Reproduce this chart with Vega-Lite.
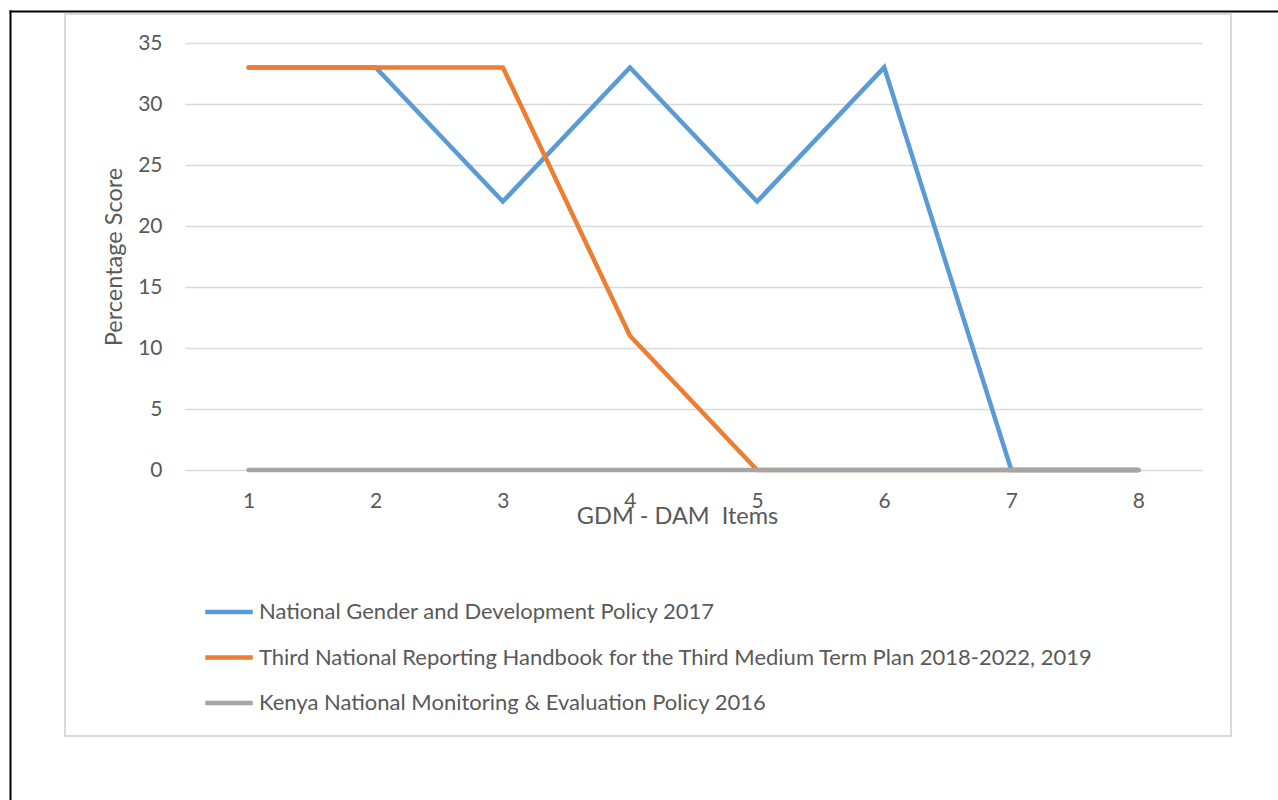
{
  "$schema": "https://vega.github.io/schema/vega-lite/v6.json",
  "width": 1166,
  "height": 722,
  "autosize": "none",
  "padding": {"left": 65, "top": 14, "right": 47, "bottom": 64},
  "background": "#ffffff",
  "config": {
    "view": {"stroke": "#D9D9D9", "strokeWidth": 2},
    "font": "Lato",
    "axis": {
      "labelFont": "Lato",
      "titleFont": "Lato",
      "labelColor": "#595959",
      "titleColor": "#595959",
      "labelFontSize": 21,
      "titleFontSize": 23.5,
      "titleFontWeight": "normal"
    }
  },
  "data": {
    "values": [
      {"item": 1, "series": "National Gender and Development Policy 2017", "score": 33},
      {"item": 2, "series": "National Gender and Development Policy 2017", "score": 33},
      {"item": 3, "series": "National Gender and Development Policy 2017", "score": 22},
      {"item": 4, "series": "National Gender and Development Policy 2017", "score": 33},
      {"item": 5, "series": "National Gender and Development Policy 2017", "score": 22},
      {"item": 6, "series": "National Gender and Development Policy 2017", "score": 33},
      {"item": 7, "series": "National Gender and Development Policy 2017", "score": 0},
      {"item": 8, "series": "National Gender and Development Policy 2017", "score": 0},
      {"item": 1, "series": "Third National Reporting Handbook for the Third Medium Term Plan 2018-2022, 2019", "score": 33},
      {"item": 2, "series": "Third National Reporting Handbook for the Third Medium Term Plan 2018-2022, 2019", "score": 33},
      {"item": 3, "series": "Third National Reporting Handbook for the Third Medium Term Plan 2018-2022, 2019", "score": 33},
      {"item": 4, "series": "Third National Reporting Handbook for the Third Medium Term Plan 2018-2022, 2019", "score": 11},
      {"item": 5, "series": "Third National Reporting Handbook for the Third Medium Term Plan 2018-2022, 2019", "score": 0},
      {"item": 6, "series": "Third National Reporting Handbook for the Third Medium Term Plan 2018-2022, 2019", "score": 0},
      {"item": 7, "series": "Third National Reporting Handbook for the Third Medium Term Plan 2018-2022, 2019", "score": 0},
      {"item": 8, "series": "Third National Reporting Handbook for the Third Medium Term Plan 2018-2022, 2019", "score": 0},
      {"item": 1, "series": "Kenya National Monitoring & Evaluation Policy 2016", "score": 0},
      {"item": 2, "series": "Kenya National Monitoring & Evaluation Policy 2016", "score": 0},
      {"item": 3, "series": "Kenya National Monitoring & Evaluation Policy 2016", "score": 0},
      {"item": 4, "series": "Kenya National Monitoring & Evaluation Policy 2016", "score": 0},
      {"item": 5, "series": "Kenya National Monitoring & Evaluation Policy 2016", "score": 0},
      {"item": 6, "series": "Kenya National Monitoring & Evaluation Policy 2016", "score": 0},
      {"item": 7, "series": "Kenya National Monitoring & Evaluation Policy 2016", "score": 0},
      {"item": 8, "series": "Kenya National Monitoring & Evaluation Policy 2016", "score": 0}
    ]
  },
  "layer": [
    {
      "mark": {"type": "line", "strokeWidth": 4.5, "strokeCap": "round", "strokeJoin": "miter"},
      "encoding": {
        "x": {
          "field": "item",
          "type": "quantitative",
          "scale": {"domain": [0.5, 8.5], "range": [120, 1137], "nice": false, "zero": false},
          "axis": {
            "orient": "bottom",
            "offset": -266,
            "values": [1, 2, 3, 4, 5, 6, 7, 8],
            "domain": false,
            "ticks": false,
            "grid": false,
            "labelBaseline": "alphabetic",
            "labelPadding": 37,
            "title": "GDM - DAM\u00a0\u00a0Items",
            "titleBaseline": "alphabetic",
            "titleX": 612,
            "titleY": 53
          }
        },
        "y": {
          "field": "score",
          "type": "quantitative",
          "scale": {"domain": [0, 35], "range": [456, 29], "nice": false, "zero": false},
          "axis": {
            "orient": "left",
            "offset": -105,
            "values": [0, 5, 10, 15, 20, 25, 30, 35],
            "domain": false,
            "ticks": false,
            "grid": true,
            "gridColor": "#D9D9D9",
            "gridWidth": 1.5,
            "labelPadding": 8,
            "title": "Percentage Score",
            "titleBaseline": "alphabetic",
            "titleX": -49
          }
        },
        "color": {
          "field": "series",
          "type": "nominal",
          "sort": null,
          "scale": {
            "domain": [
              "National Gender and Development Policy 2017",
              "Third National Reporting Handbook for the Third Medium Term Plan 2018-2022, 2019",
              "Kenya National Monitoring & Evaluation Policy 2016"
            ],
            "range": ["#5B9BD5", "#ED7D31", "#A5A5A5"]
          },
          "legend": {
            "orient": "none",
            "legendX": 138,
            "legendY": 572,
            "direction": "vertical",
            "title": null,
            "padding": 0,
            "symbolType": "stroke",
            "symbolSize": 2256,
            "symbolStrokeWidth": 4.5,
            "labelFont": "Lato",
            "labelFontSize": 22,
            "labelColor": "#595959",
            "labelOffset": 4,
            "labelLimit": 0,
            "rowPadding": 8.5
          }
        }
      }
    },
    {
      "mark": {"type": "point", "opacity": 0, "size": 0},
      "encoding": {
        "x": {
          "field": "item",
          "type": "quantitative",
          "scale": {"domain": [0, 1], "range": [-56, 1213], "nice": false, "zero": false},
          "axis": {
            "orient": "top",
            "offset": 3,
            "domain": true,
            "domainColor": "#000000",
            "domainWidth": 2,
            "labels": false,
            "ticks": false,
            "grid": false,
            "title": null
          }
        },
        "y": {
          "field": "score",
          "type": "quantitative",
          "scale": {"domain": [0, 1], "range": [786, -4], "nice": false, "zero": false},
          "axis": {
            "orient": "left",
            "offset": 55,
            "domain": true,
            "domainColor": "#000000",
            "domainWidth": 2,
            "labels": false,
            "ticks": false,
            "grid": false,
            "title": null
          }
        }
      }
    }
  ],
  "resolve": {
    "scale": {"x": "independent", "y": "independent"},
    "axis": {"x": "independent", "y": "independent"}
  }
}
